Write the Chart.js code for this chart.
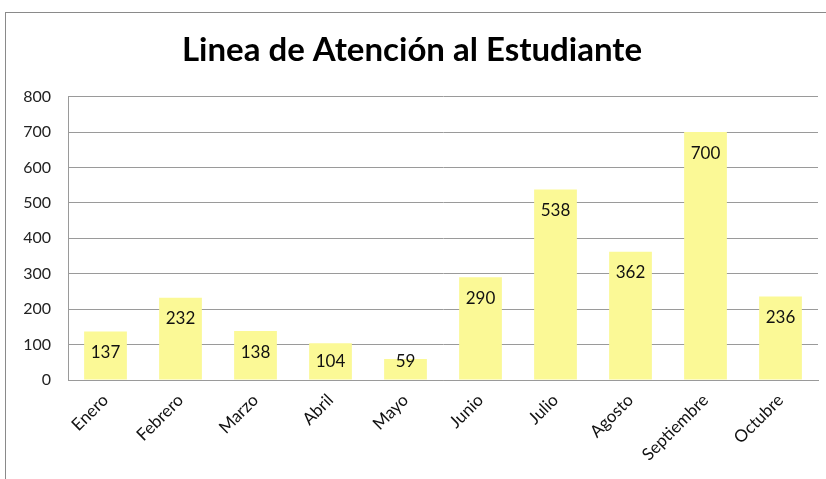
<!DOCTYPE html>
<html>
<head>
<meta charset="utf-8">
<script src="https://cdn.jsdelivr.net/npm/chart.js@4/dist/chart.umd.min.js"></script>
<style>
  body { margin: 0; background: #fff; }
  #frame { position: absolute; left: 5px; top: 12px; width: 821px; height: 467px;
           border-top: 1px solid #8a8a8a; border-left: 1px solid #8a8a8a; box-sizing: border-box; }
  #chart { position: absolute; left: 0; top: 0; }
</style>
</head>
<body>
<div id="frame"><canvas id="chart" width="820" height="466"></canvas></div>
<script>
var meses = ['Enero','Febrero','Marzo','Abril','Mayo','Junio','Julio','Agosto','Septiembre','Octubre'];
var llamadas = [137, 232, 138, 104, 59, 290, 538, 362, 700, 236];
var titulo = 'Linea de Atención al Estudiante';

// draws the value inside each bar, just below its top (short bars: kept above the axis)
var etiquetas = {
  id: 'etiquetas',
  afterDatasetsDraw: function(chart) {
    var ctx = chart.ctx;
    var meta = chart.getDatasetMeta(0);
    var fondo = chart.chartArea.bottom;
    ctx.save();
    ctx.font = '17px Lato';
    ctx.fillStyle = '#111';
    ctx.textAlign = 'center';
    ctx.textBaseline = 'middle';
    meta.data.forEach(function(bar, i) {
      var y = Math.min(bar.y + 21, fondo - 18);
      ctx.fillText(llamadas[i], bar.x, y);
    });
    ctx.restore();
  }
};

var ctx = document.getElementById('chart');
var chart = new Chart(ctx, {
  type: 'bar',
  data: {
    labels: meses,
    datasets: [{
      data: llamadas,
      backgroundColor: 'rgb(251,249,150)',
      categoryPercentage: 1,
      barPercentage: 0.57
    }]
  },
  options: {
    responsive: false,
    animation: false,
    layout: { padding: { left: 0, right: 8, top: 0, bottom: 0 } },
    plugins: {
      legend: { display: false },
      tooltip: { enabled: false },
      title: {
        display: true,
        text: titulo,
        color: '#000',
        font: { family: 'Lato', size: 33, weight: 'bold' },
        padding: { top: 18, bottom: 26 }
      }
    },
    scales: {
      x: {
        grid: { display: false, drawTicks: false },
        border: { color: '#9a9a9a' },
        ticks: {
          color: '#111', font: { family: 'Lato', size: 17 },
          minRotation: 45, maxRotation: 45, padding: 10
        },
        afterFit: function(s) { s.height = 99; }
      },
      y: {
        min: 0, max: 800,
        grid: { color: '#9a9a9a', drawTicks: false },
        border: { color: '#9a9a9a' },
        ticks: { stepSize: 100, color: '#222', font: { family: 'Lato', size: 16 }, padding: 17 },
        afterFit: function(s) { s.width = 62; }
      }
    }
  },
  plugins: [etiquetas]
});
</script>
</body>
</html>
